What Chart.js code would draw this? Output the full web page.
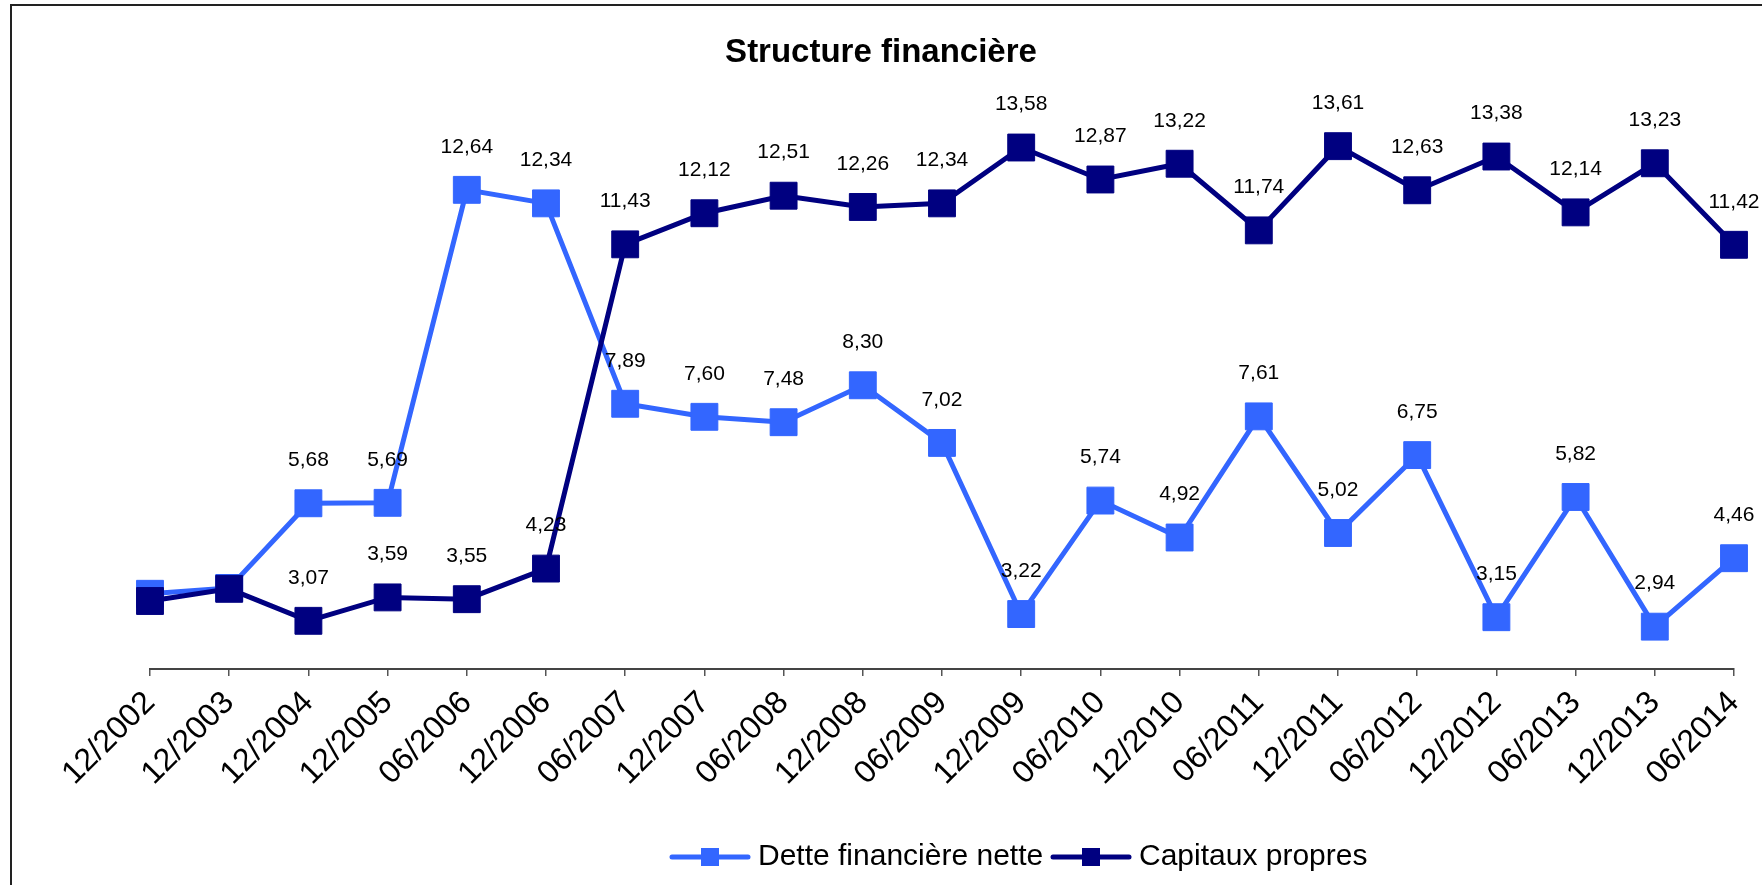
<!DOCTYPE html>
<html>
<head>
<meta charset="utf-8">
<script src="https://cdn.jsdelivr.net/npm/chart.js@4.4.1/dist/chart.umd.min.js"></script>
<style>
  html, body { margin: 0; padding: 0; background: #fff; }
  #wrap { width: 1762px; height: 885px; }
</style>
</head>
<body>
<div id="wrap"><canvas id="structureChart" width="1762" height="885"></canvas></div>
<script>
// Données
const periodes = ['12/2002', '12/2003', '12/2004', '12/2005', '06/2006', '12/2006', '06/2007', '12/2007',
  '06/2008', '12/2008', '06/2009', '12/2009', '06/2010', '12/2010', '06/2011', '12/2011', '06/2012',
  '12/2012', '06/2013', '12/2013', '06/2014'];
const detteNette = [3.67, 3.80, 5.68, 5.69, 12.64, 12.34, 7.89, 7.60, 7.48, 8.30, 7.02, 3.22, 5.74, 4.92,
  7.61, 5.02, 6.75, 3.15, 5.82, 2.94, 4.46];
const capitauxPropres = [3.51, 3.78, 3.07, 3.59, 3.55, 4.23, 11.43, 12.12, 12.51, 12.26, 12.34, 13.58,
  12.87, 13.22, 11.74, 13.61, 12.63, 13.38, 12.14, 13.23, 11.42];
// les deux premières valeurs n'ont pas d'étiquette
const premierEtiquette = 2;

const couleurDette = '#3366FF';
const couleurCapitaux = '#000080';
const police = 'Arial, "Liberation Sans", sans-serif';

// Etiquettes de valeur au-dessus des points
const etiquettesPlugin = {
  id: 'etiquettes',
  afterDatasetsDraw(chart) {
    const ctx = chart.ctx;
    ctx.save();
    ctx.font = '21px ' + police;
    ctx.fillStyle = '#000';
    ctx.textAlign = 'center';
    ctx.textBaseline = 'middle';
    chart.data.datasets.forEach((ds, i) => {
      const meta = chart.getDatasetMeta(i);
      meta.data.forEach((pt, j) => {
        if (j < premierEtiquette) return;
        ctx.fillText(ds.data[j].toFixed(2).replace('.', ','), pt.x, pt.y - 43);
      });
    });
    ctx.restore();
  }
};

// Cadre et légende façon Excel
const cadrePlugin = {
  id: 'cadre',
  afterDraw(chart) {
    const ctx = chart.ctx;
    ctx.save();
    ctx.strokeStyle = '#222';
    ctx.lineWidth = 2;
    ctx.beginPath();
    ctx.moveTo(11, 885);
    ctx.lineTo(11, 5);
    ctx.lineTo(1762, 5);
    ctx.stroke();

    // légende
    const items = [
      { texte: 'Dette financière nette', couleur: couleurDette, x: 672 },
      { texte: 'Capitaux propres', couleur: couleurCapitaux, x: 1053 }
    ];
    const y = 857;
    ctx.font = '30px ' + police;
    ctx.textBaseline = 'middle';
    ctx.textAlign = 'left';
    items.forEach(it => {
      ctx.strokeStyle = it.couleur;
      ctx.lineWidth = 5;
      ctx.lineCap = 'round';
      ctx.beginPath();
      ctx.moveTo(it.x, y);
      ctx.lineTo(it.x + 76, y);
      ctx.stroke();
      ctx.fillStyle = it.couleur;
      ctx.fillRect(it.x + 38 - 9, y - 9, 18, 18);
      ctx.fillStyle = '#000';
      ctx.fillText(it.texte, it.x + 86, y);
    });
    ctx.restore();
  }
};

const ctx = document.getElementById('structureChart').getContext('2d');
const structureChart = new Chart(ctx, {
  type: 'line',
  data: {
    labels: periodes,
    datasets: [{
      label: 'Dette financière nette',
      data: detteNette,
      borderColor: couleurDette,
      backgroundColor: couleurDette,
      borderWidth: 5,
      pointStyle: 'rect',
      pointRadius: 19,
      pointBorderWidth: 1,
      pointHoverRadius: 19,
      tension: 0,
      order: 1
    }, {
      label: 'Capitaux propres',
      data: capitauxPropres,
      borderColor: couleurCapitaux,
      backgroundColor: couleurCapitaux,
      borderWidth: 5,
      pointStyle: 'rect',
      pointRadius: 19,
      pointBorderWidth: 1,
      pointHoverRadius: 19,
      tension: 0,
      order: 0
    }]
  },
  options: {
    responsive: false,
    animation: false,
    events: [],
    layout: { padding: 0 },
    plugins: {
      legend: { display: false },
      tooltip: { enabled: false },
      title: {
        display: true,
        text: 'Structure financière',
        color: '#000',
        font: { family: police, size: 33, weight: 'bold' },
        padding: { top: 33, bottom: 56 }
      }
    },
    scales: {
      x: {
        offset: false,
        grid: {
          display: true,
          drawOnChartArea: false,
          drawTicks: true,
          tickLength: 7,
          color: '#555',
          lineWidth: 1.5
        },
        border: { display: true, color: '#444', width: 2 },
        ticks: {
          color: '#000',
          font: { family: police, size: 32 },
          maxRotation: 45,
          minRotation: 45,
          autoSkip: false,
          padding: 8
        },
        afterFit(scale) {
          scale.height = 216;
          scale.paddingLeft = 0;
          scale.paddingRight = 0;
        }
      },
      y: {
        min: 2,
        max: 14,
        position: 'left',
        grid: { display: false },
        border: { display: false },
        ticks: { display: false },
        afterFit(scale) { scale.width = 150; }
      },
      y2: {
        min: 2,
        max: 14,
        position: 'right',
        grid: { display: false },
        border: { display: false },
        ticks: { display: false },
        afterFit(scale) { scale.width = 28; }
      }
    }
  },
  plugins: [etiquettesPlugin, cadrePlugin]
});
</script>
</body>
</html>
